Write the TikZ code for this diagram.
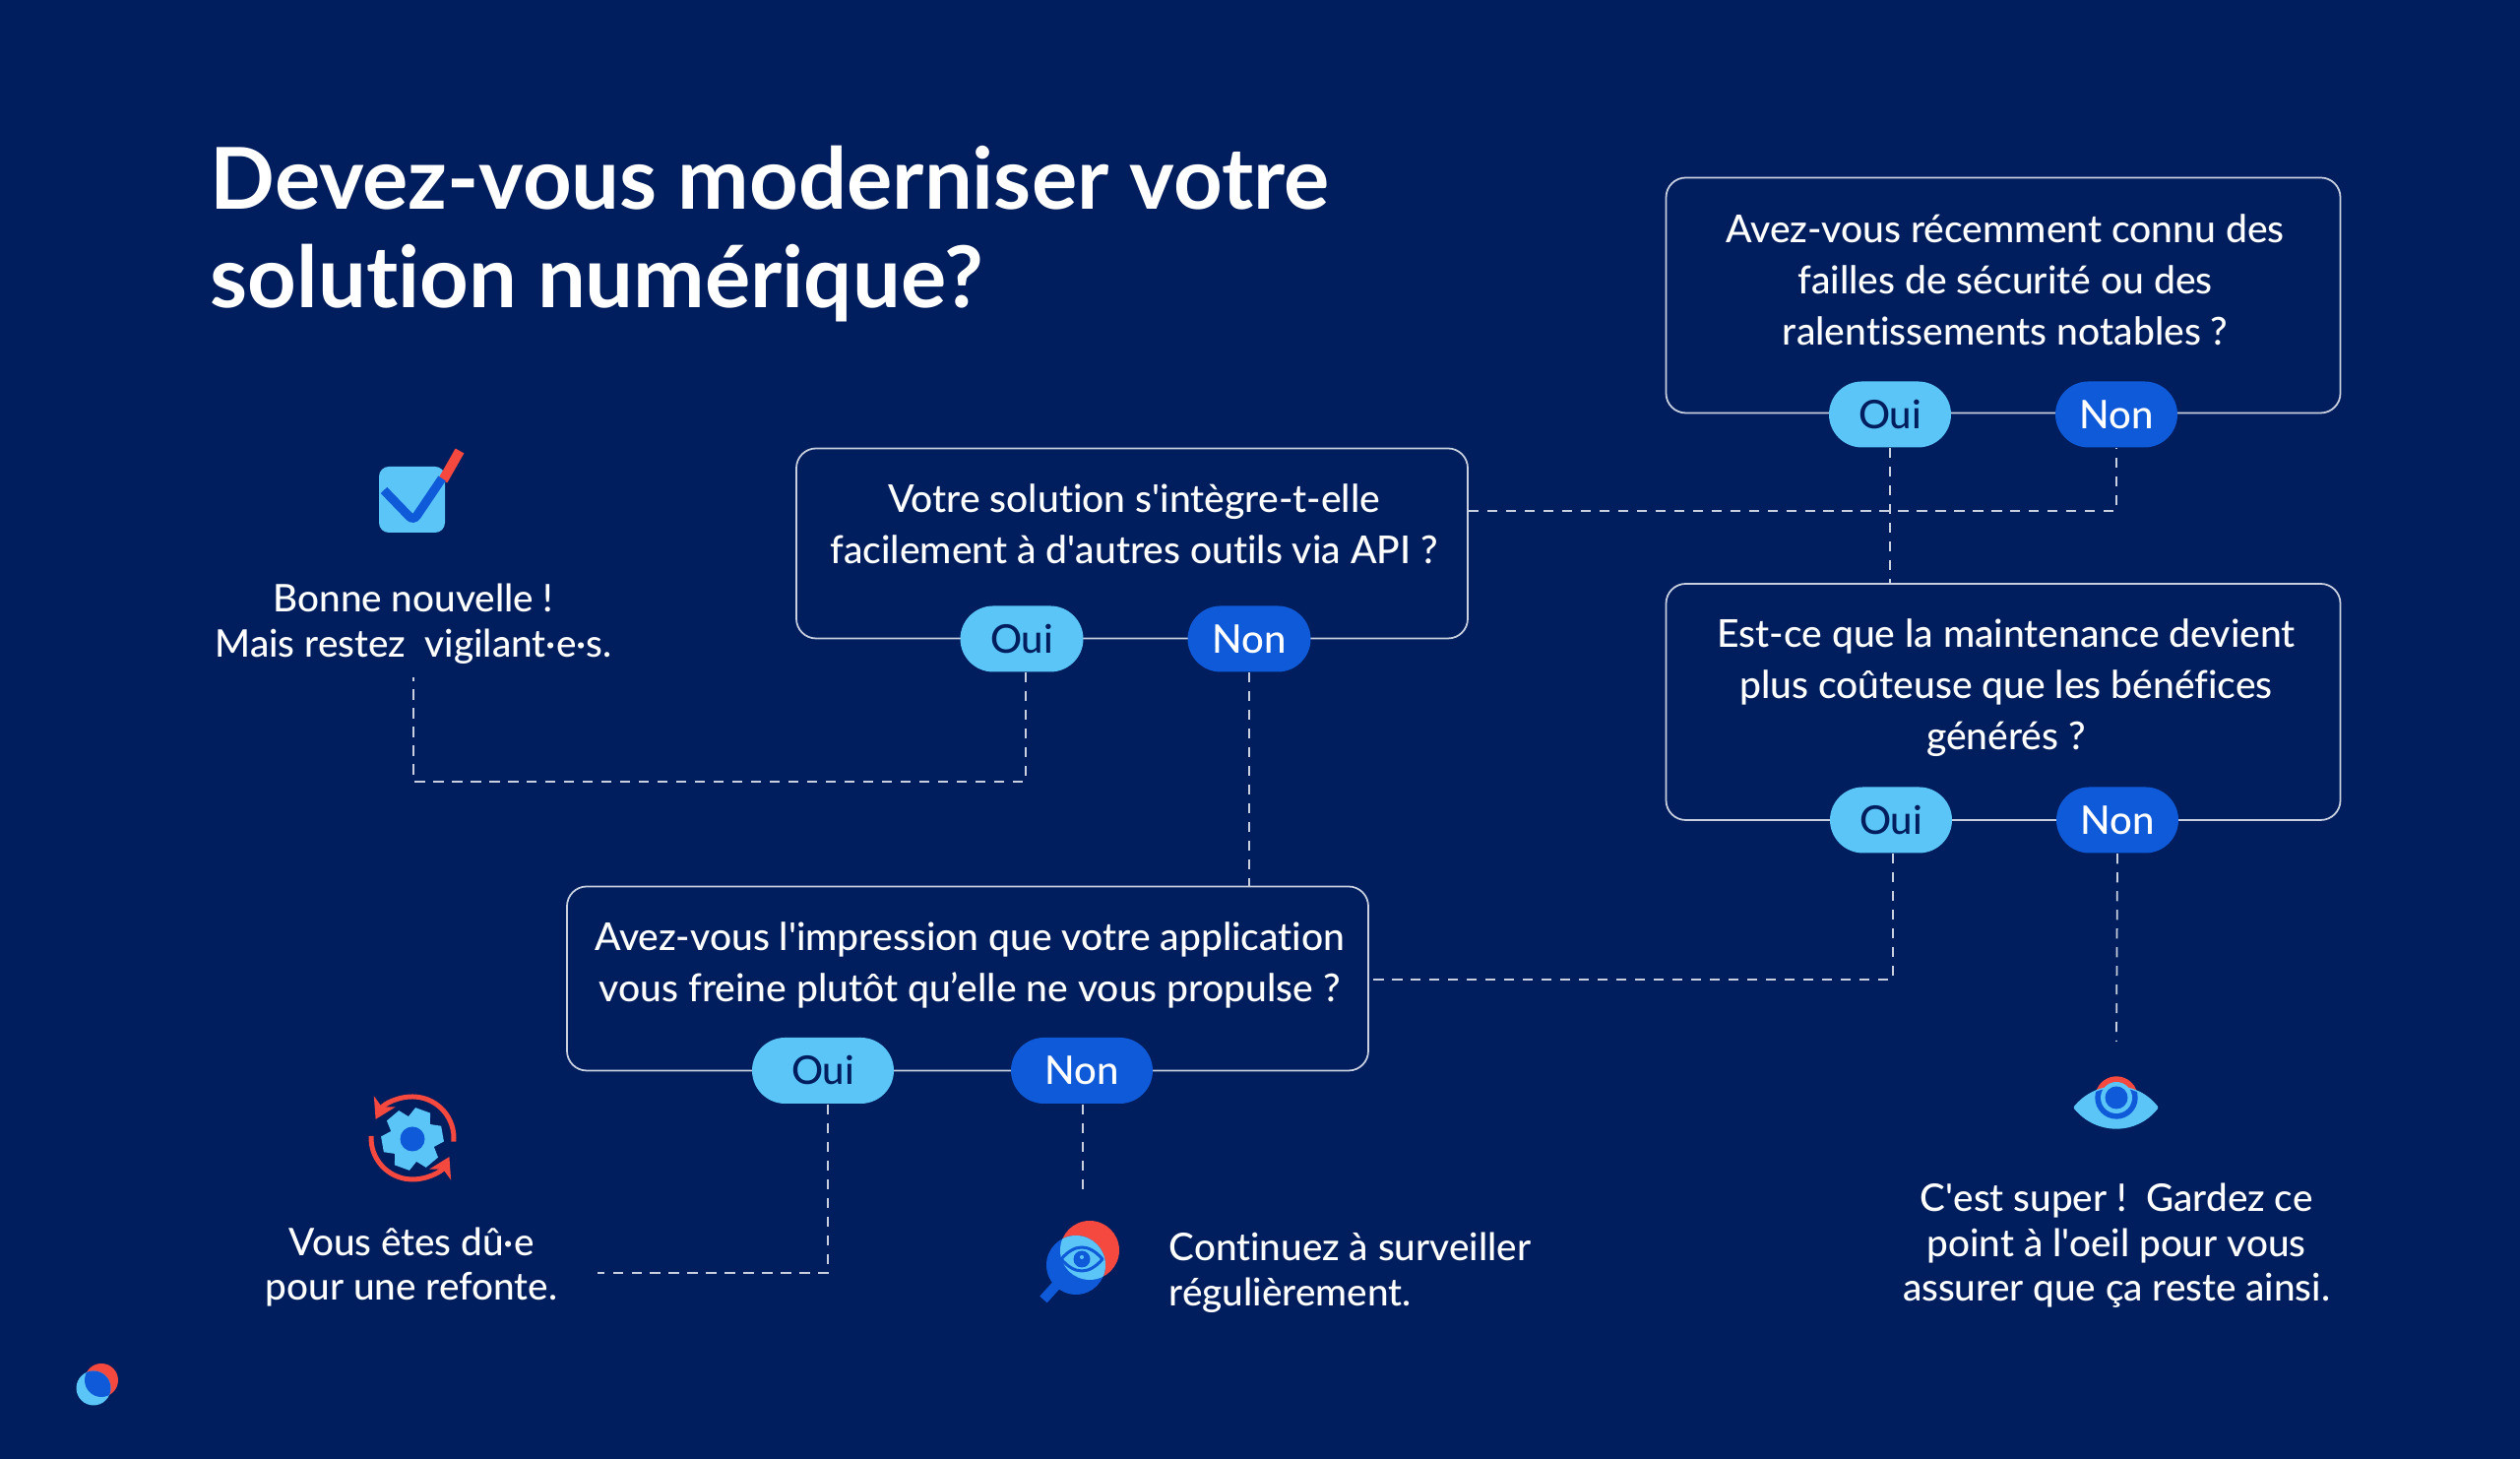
\documentclass[tikz,border=0pt]{standalone}
\usepackage{fontspec}
\setmainfont{Lato Medium}[BoldFont={Lato Bold},Ligatures=CommonOff]
\usetikzlibrary{arrows.meta}
\definecolor{navybg}{RGB}{0,30,93}
\definecolor{skyc}{RGB}{91,197,247}
\definecolor{bluec}{RGB}{15,90,216}
\definecolor{redc}{RGB}{245,72,63}
\definecolor{edgec}{RGB}{200,208,224}
\newcommand{\sq}{\textquotesingle}
\begin{document}
\begin{tikzpicture}
        \tikzstyle{qbox}=[rectangle, draw=edgec, line width=0.5pt, rounded corners=0.2cm, inner sep=0pt]
        \tikzstyle{qtext}=[text=white, font=\fontsize{11.1}{14.8}\selectfont, align=center, inner sep=0pt]
        \tikzstyle{note}=[text=white, font=\fontsize{11}{13}\selectfont, align=center, inner sep=0pt]
        \tikzstyle{yes}=[rectangle, fill=skyc, text=navybg, rounded corners=0.335cm, minimum height=0.67cm, inner sep=0pt, font=\fontsize{11.4}{14}\selectfont]
        \tikzstyle{no}=[rectangle, fill=bluec, text=white, rounded corners=0.335cm, minimum height=0.67cm, inner sep=0pt, font=\fontsize{11.4}{14}\selectfont]
        \tikzstyle{link}=[draw=edgec, line width=0.5pt, dash pattern=on 2.9pt off 2.5pt]

        \fill[navybg] (0,0) rectangle (25.6,14.82);

        \node[anchor=base west, text=white, font=\fontsize{24.65}{28.6}\bfseries\selectfont, align=left, inner sep=0pt] (title) at (2.13,11.69) {Devez-vous moderniser votre\\solution numérique?};

        % questions
        \node[qbox, minimum width=6.85cm, minimum height=2.39cm] (box1) at (20.35,11.82) {};
        \node[qtext] (q1) at (20.37,11.98) {Avez-vous récemment connu des\\failles de sécurité ou des\\ralentissements notables ?};
        \node[yes, minimum width=1.24cm] (oui1) at (19.20,10.61) {Oui};
        \node[no, minimum width=1.24cm] (non1) at (21.50,10.61) {Non};

        \node[qbox, minimum width=6.85cm, minimum height=2.40cm] (box2) at (20.35,7.69) {};
        \node[qtext] (q2) at (20.38,7.83) {Est-ce que la maintenance devient\\plus coûteuse que les bénéfices\\générés ?};
        \node[yes, minimum width=1.24cm] (oui2) at (19.21,6.49) {Oui};
        \node[no, minimum width=1.24cm] (non2) at (21.51,6.49) {Non};

        \node[qbox, minimum width=6.82cm, minimum height=1.93cm] (box3) at (11.50,9.30) {};
        \node[qtext] (q3) at (11.52,9.50) {Votre solution s\sq{}intègre-t-elle\\facilement à d\sq{}autres outils via API ?};
        \node[yes, minimum width=1.25cm] (oui3) at (10.38,8.33) {Oui};
        \node[no, minimum width=1.25cm] (non3) at (12.69,8.33) {Non};

        \node[qbox, minimum width=8.14cm, minimum height=1.87cm] (box4) at (9.83,4.88) {};
        \node[qtext] (q4) at (9.85,5.02) {Avez-vous l\sq{}impression que votre application\\vous freine plutôt qu’elle ne vous propulse ?};
        \node[yes, minimum width=1.44cm] (oui4) at (8.36,3.945) {Oui};
        \node[no, minimum width=1.44cm] (non4) at (10.99,3.945) {Non};

        % outcomes
        \node[note, minimum height=1.06cm] (bonne) at (4.20,8.48) {Bonne nouvelle !\\Mais restez\ \ vigilant·e·s.};
        \node[note, text width=3.76cm, align=flush center] (refonte) at (4.18,1.95) {Vous êtes dû·e\\pour une refonte.};
        \node[note, anchor=west, align=left] (surveil) at (11.87,1.89) {Continuez à surveiller\\régulièrement.};
        \node[note] (super) at (21.50,2.165) {C\sq{}est super !\ \ Gardez ce\\point à l\sq{}oeil pour vous\\assurer que ça reste ainsi.};

        % check icon
        \node[rectangle, fill=skyc, rounded corners=0.1cm, minimum size=0.67cm, inner sep=0pt] (check) at (4.185,9.745) {};
        \draw[redc, line width=0.1cm] (4.50,9.94) -- (4.67,10.24);
        \draw[bluec, line width=0.09cm, rounded corners=0.06cm] (3.90,9.84) -- (4.20,9.53) -- (4.49,9.96);

        % gear icon
        \coordinate (gear) at (4.19,3.25);
        \fill[skyc] (gear) circle (0.23);
        \foreach \a in {10,70,...,310}
            \fill[skyc, rotate around={\a:(gear)}] (4.35,3.12) -- (4.50,3.17) -- (4.50,3.33) -- (4.35,3.38) -- cycle;
        \fill[bluec] (gear) circle (0.125);
        \draw[redc, line width=0.05cm, -{Stealth[length=0.2cm,width=0.24cm,inset=0.06cm]}] (4.19,3.26) ++(-5:0.42) arc[start angle=-5, end angle=153, radius=0.42];
        \draw[redc, line width=0.05cm, -{Stealth[length=0.2cm,width=0.24cm,inset=0.06cm]}] (4.19,3.26) ++(177:0.42) arc[start angle=177, end angle=333, radius=0.42];

        % lens icon
        \draw[bluec, line width=0.1cm] (10.78,1.82) -- (10.60,1.62);
        \fill[redc] (11.07,2.12) circle (0.30);
        \fill[bluec] (10.93,1.97) circle (0.30);
        \begin{scope}
            \clip (11.07,2.12) circle (0.30);
            \fill[skyc] (10.93,1.97) circle (0.30);
        \end{scope}
        \draw[bluec, line width=0.03cm, line join=round] (10.78,2.03) .. controls (10.92,2.19) and (11.06,2.19) .. (11.20,2.03) .. controls (11.06,1.87) and (10.92,1.87) .. (10.78,2.03) -- cycle;
        \fill[bluec] (10.99,2.03) circle (0.085);
        \fill[skyc] (10.99,2.05) circle (0.02);

        % eye icon
        \draw[redc, line width=0.06cm] (21.50,3.67) circle (0.187);
        \fill[skyc, draw=skyc, line width=0.03cm, line join=round] (21.08,3.57) .. controls (21.30,3.84) and (21.70,3.84) .. (21.91,3.57) .. controls (21.70,3.30) and (21.30,3.30) .. (21.08,3.57) -- cycle;
        \begin{scope}
            \clip (21.08,3.57) .. controls (21.30,3.84) and (21.70,3.84) .. (21.91,3.57) .. controls (21.70,3.30) and (21.30,3.30) .. (21.08,3.57) -- cycle;
            \fill[bluec] (21.50,3.67) circle (0.217);
        \end{scope}
        \fill[skyc] (21.50,3.67) circle (0.16);
        \fill[bluec] (21.50,3.67) circle (0.115);
        \coordinate (eyetop) at (21.50,4.24);

        % logo
        \fill[redc] (1.03,0.80) circle (0.17);
        \fill[skyc] (0.95,0.72) circle (0.175);
        \begin{scope}
            \clip (1.03,0.80) circle (0.17);
            \fill[bluec] (0.95,0.72) circle (0.175);
        \end{scope}

        % connectors
        \coordinate (elbowa) at (21.50,9.63);
        \coordinate (elbowb) at (10.42,6.88);
        \coordinate (elbowc) at (19.23,4.87);
        \coordinate (elbowd) at (8.41,1.89);
        \coordinate (lenstop) at (11.00,2.74);
        \draw[link] (box3.east |- elbowa) -- (elbowa) -- (non1.south);
        \draw[link] (oui1.south) -- (oui1.south |- box2.north);
        \draw[link] (elbowb |- oui3.south) -- (elbowb) -| (bonne.south);
        \draw[link] (non3.south) -- (non3.south |- box4.north);
        \draw[link] (elbowc |- oui2.south) -- (elbowc) -- (box4.east |- elbowc);
        \draw[link] (non2.south) -- (eyetop);
        \draw[link] (elbowd |- oui4.south) -- (elbowd) -- (refonte.east |- elbowd);
        \draw[link] (lenstop |- non4.south) -- (lenstop);
    \end{tikzpicture}
\end{document}
